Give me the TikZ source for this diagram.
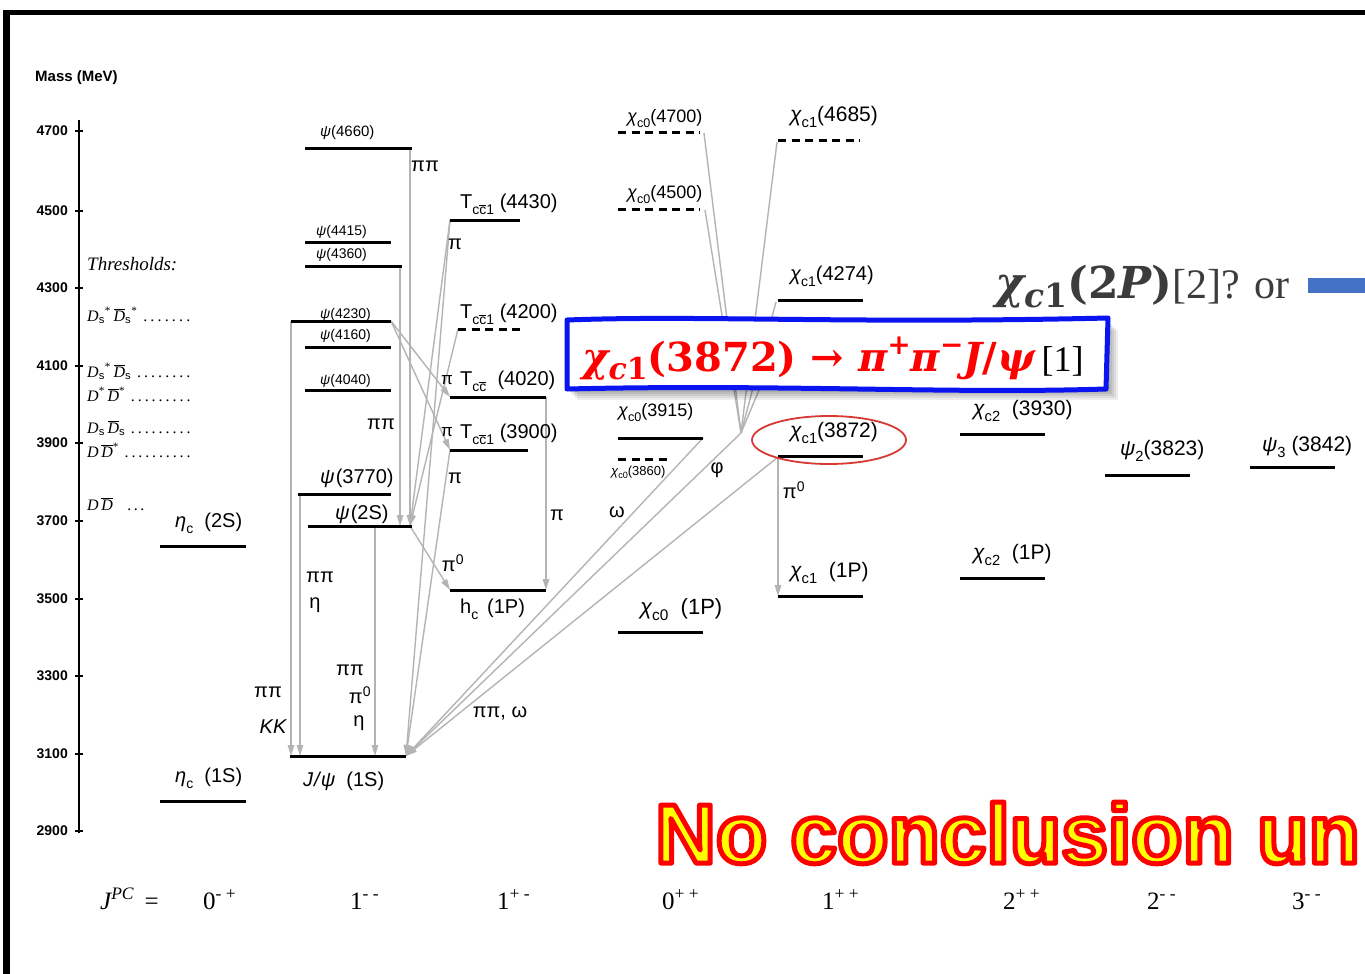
\documentclass[tikz,border=0pt]{standalone}
\usepackage{fontspec}
\usepackage{graphicx}
\setmainfont{Liberation Serif}
\newfontfamily\lsans{Liberation Sans}
\newfontfamily\djs{DejaVu Serif}
\usetikzlibrary{arrows.meta}
\definecolor{barblue}{HTML}{4472C4}
\definecolor{trgray}{HTML}{B4B4B4}
\definecolor{elred}{HTML}{D63A33}
\definecolor{boxblue}{HTML}{0A14F0}
\definecolor{txtgray}{HTML}{3C3C3C}
\newcommand\fsz[1]{\fontsize{#1}{#1}\selectfont}
\newcommand\gi[1]{{\itshape #1}}
\newcommand\sbs[1]{\raisebox{-0.3em}{\scalebox{0.7}{#1}}}
\newcommand\bsb[1]{\raisebox{-0.22em}{\scalebox{0.75}{#1}}}
\newcommand\bsp[1]{\raisebox{0.42em}{\scalebox{0.7}{#1}}}
\newcommand\cb{$\overline{\hbox{c}}$}
\newcommand\Dit{{\itshape D}}
\newcommand\Dbr{$\overline{\hbox{\itshape D}}$}
\newcommand\sS{\textsubscript{\lsans s}}
\newcommand\dt{\hbox to 6.6pt{\hss.\hss}}
\newcommand\thrrow[2]{\hbox to #1pt{#2\ \xleaders\dt\hfill}}
\newcommand\NoC{No conclusion un}
\newcommand\outl[1]{\special{pdf:code q 2 Tr 1 0 0 RG 1 1 0 rg 5 w 1 j}#1\special{pdf:code Q}}
\tikzset{
  lvl/.style={line width=3pt, black},
  dlvl/.style={line width=3pt, black, dash pattern=on 8pt off 5.5pt},
  tr/.style={draw=trgray, line width=1.4pt, -{Triangle[length=11pt,width=6.5pt]}},
  trl/.style={draw=trgray, line width=1.4pt},
  lab/.style={inner sep=0pt, anchor=base west, font=\lsans\fsz{20}},
  mlab/.style={inner sep=0pt, anchor=base west, font=\lsans\fsz{18}},
  slab/.style={inner sep=0pt, anchor=base west, font=\lsans\fsz{14}},
  tlab/.style={inner sep=0pt, font=\lsans\fsz{20}},
  tick/.style={inner sep=0pt, anchor=east, font=\lsans\bfseries\fsz{14}},
  thr/.style={inner sep=0pt, anchor=base west, font=\fsz{16}},
  jpc/.style={inner sep=0pt, anchor=base west, font=\fsz{25}},
  bigt/.style={inner sep=0pt, anchor=base west, font=\lsans\bfseries\fsz{84}},
}
\begin{document}
\begin{tikzpicture}[x=1pt,y=-1pt]
\useasboundingbox (0,0) rectangle (1365,974);
\clip (0,0) rectangle (1365,974);
\fill[white] (0,0) rectangle (1365,974);
% frame
\fill[black] (3,10) rectangle (1365,15);
\fill[black] (3,10) rectangle (10,974);

% axis
\draw[line width=1.5pt] (79,120) -- (79,833);
\foreach \m/\yy in {4700/131,4500/211,4300/288,4100/366,3900/443,3700/521,3500/599,3300/676,3100/754,2900/831}{
  \draw[line width=1.5pt] (75,\yy) -- (83,\yy);
  \node[tick] (t\m) at (68,\yy) {\m};
}
\node[inner sep=0pt, anchor=west, font=\lsans\bfseries\fsz{15}] (mass) at (35,78) {Mass (MeV)};

% thresholds
\node[inner sep=0pt, anchor=west, font=\itshape\fsz{19}] (thrt) at (87,264) {Thresholds:};
\node[thr] (th1) at (87,321) {\thrrow{105}{\Dit\sS\textsuperscript{*}\,\Dbr\sS\textsuperscript{*}}};
\node[thr] (th2) at (87,377) {\thrrow{105}{\Dit\sS\textsuperscript{*}\,\Dbr\sS}};
\node[thr] (th3) at (87,401) {\thrrow{105}{\Dit\textsuperscript{*}\,\Dbr\textsuperscript{*}}};
\node[thr] (th4) at (87,433) {\thrrow{105}{\Dit\sS\,\Dbr\sS}};
\node[thr] (th5) at (87,457) {\thrrow{105}{\Dit\,\Dbr\textsuperscript{*}}};
\node[thr] (th6) at (87,510) {\Dit\,\Dbr\hspace{13pt}\dt\dt\dt};

% coordinates for transitions
\coordinate (p4660a) at (410,148);
\coordinate (p2Sa) at (410,526);
\coordinate (p4360a) at (400,266);
\coordinate (p2Sb) at (400,526);
\coordinate (p4230L) at (291,321);
\coordinate (jpL) at (291,756);
\coordinate (p3770L) at (300,494);
\coordinate (jpL2) at (300,756);
\coordinate (p2Sc) at (375,526);
\coordinate (jpM) at (375,756);
\coordinate (p4230R) at (391,321);
\coordinate (t4020L) at (450,397);
\coordinate (t3900L) at (450,450);
\coordinate (hcL) at (450,590);
\coordinate (t4020R) at (546,397);
\coordinate (hcR) at (546,590);
\coordinate (t4430L) at (450,220);
\coordinate (t4200L) at (458,329);
\coordinate (jpR) at (406,756);
\coordinate (chi0a) at (704,133);
\coordinate (chi0b) at (705,210);
\coordinate (chi1a) at (777,142);
\coordinate (chi1b) at (776,302);
\coordinate (chi1c) at (777,347);
\coordinate (cv) at (741,433);
\coordinate (c3915R) at (703,438);
\coordinate (c3872L) at (778,457);
\coordinate (c1PL) at (778,596);

% transitions
\draw[tr] (p4660a) -- (p2Sa);
\draw[tr] (p4360a) -- (p2Sb);
\draw[tr] (p4230L) -- (jpL);
\draw[tr] (p3770L) -- (jpL2);
\draw[tr] (p2Sc) -- (jpM);
\draw[tr] (p4230R) -- (t4020L);
\draw[tr] (p4230R) -- (t3900L);
\draw[tr] (p2Sa) -- (hcL);
\draw[tr] (t4020R) -- (hcR);
\draw[tr] (t4430L) -- (jpR);
\draw[tr] (t4430L) -- (p2Sa);
\draw[tr] (t4200L) -- (p2Sa);
\draw[tr] (t3900L) -- (jpR);
\draw[trl] (chi0a) -- (cv);
\draw[trl] (chi0b) -- (cv);
\draw[trl] (chi1a) -- (cv);
\draw[trl] (chi1b) -- (cv);
\draw[trl] (chi1c) -- (cv);
\draw[tr] (cv) -- (jpR);
\draw[tr] (c3915R) -- (jpR);
\draw[tr] (c3872L) -- (jpR);
\draw[tr] (c3872L) -- (c1PL);

% levels
\draw[lvl] (160,546) -- (246,546);
\draw[lvl] (160,801) -- (246,801);
\draw[lvl] (305,148) -- (412,148);
\draw[lvl] (305,242) -- (391,242);
\draw[lvl] (305,266) -- (402,266);
\draw[lvl] (291,321) -- (391,321);
\draw[lvl] (305,347) -- (391,347);
\draw[lvl] (305,390) -- (391,390);
\draw[lvl] (298,494) -- (391,494);
\draw[lvl] (308,526) -- (412,526);
\draw[lvl] (290,756) -- (406,756);
\draw[lvl] (450,220) -- (520,220);
\draw[dlvl] (458,329) -- (524,329);
\draw[lvl] (450,397) -- (546,397);
\draw[lvl] (450,450) -- (528,450);
\draw[lvl] (450,590) -- (546,590);
\draw[dlvl] (618,132) -- (700,132);
\draw[dlvl] (618,209) -- (700,209);
\draw[lvl] (618,438) -- (703,438);
\draw[dlvl] (618,459) -- (670,459);
\draw[lvl] (618,632) -- (703,632);
\draw[dlvl] (778,140) -- (860,140);
\draw[lvl] (778,300) -- (863,300);
\draw[lvl] (778,345) -- (863,345);
\draw[lvl] (778,456) -- (863,456);
\draw[lvl] (778,596) -- (863,596);
\draw[lvl] (960,434) -- (1045,434);
\draw[lvl] (960,578) -- (1045,578);
\draw[lvl] (1105,475) -- (1190,475);
\draw[lvl] (1250,467) -- (1335,467);

% level labels
\node[lab] (letac2) at (175,527) {\gi{η}\sbs{c}\ \ (2S)};
\node[lab] (letac1) at (175,782) {\gi{η}\sbs{c}\ \ (1S)};
\node[slab, font=\lsans\fsz{15}] (lp4660) at (320,136) {\gi{ψ}(4660)};
\node[slab] (lp4415) at (316,235) {\gi{ψ}(4415)};
\node[slab] (lp4360) at (316,258) {\gi{ψ}(4360)};
\node[slab] (lp4230) at (320,318) {\gi{ψ}(4230)};
\node[slab] (lp4160) at (320,339) {\gi{ψ}(4160)};
\node[slab] (lp4040) at (320,384) {\gi{ψ}(4040)};
\node[lab] (lp3770) at (320,483) {\gi{ψ}\kern1pt(3770)};
\node[lab] (lp2S) at (335,519) {\gi{ψ}\kern1pt(2S)};
\node[lab] (ljp) at (303,786) {\gi{J\kern1pt/\kern1ptψ}\ \ (1S)};
\node[lab] (lt4430) at (460,208) {T\sbs{c\cb1} (4430)};
\node[lab] (lt4200) at (460,318) {T\sbs{c\cb1} (4200)};
\node[lab] (lt4020) at (460,385) {T\sbs{c\cb} \ (4020)};
\node[lab] (lt3900) at (460,438) {T\sbs{c\cb1} (3900)};
\node[lab] (lhc) at (460,613) {h\sbs{c}\ \,(1P)};
\node[mlab] (lc4700) at (627,122) {\gi{χ}\sbs{c0}(4700)};
\node[mlab] (lc4500) at (627,198) {\gi{χ}\sbs{c0}(4500)};
\node[mlab] (lc3915) at (618,416) {\gi{χ}\sbs{c0}(3915)};
\node[slab, font=\lsans\fsz{13}] (lc3860) at (611,475) {\gi{χ}\sbs{c0}(3860)};
\node[lab, font=\lsans\fsz{22}] (lc01P) at (640,614) {\gi{χ}\sbs{c0}\ \ (1P)};
\node[lab, font=\lsans\fsz{21}] (lc4685) at (790,121) {\gi{χ}\sbs{c1}(4685)};
\node[lab] (lc4274) at (790,280) {\gi{χ}\sbs{c1}(4274)};
\node[lab] (lc4140) at (790,334) {\gi{χ}\sbs{c1}(4140)};
\node[lab, font=\lsans\fsz{21}] (lc3872) at (790,437) {\gi{χ}\sbs{c1}(3872)};
\node[lab, font=\lsans\fsz{21}] (lc11P) at (790,577) {\gi{χ}\sbs{c1}\ \ (1P)};
\node[lab, font=\lsans\fsz{21}] (lc3930) at (973,415) {\gi{χ}\sbs{c2}\ \ (3930)};
\node[lab, font=\lsans\fsz{21}] (lc21P) at (973,559) {\gi{χ}\sbs{c2}\ \ (1P)};
\node[lab, font=\lsans\fsz{21}] (lp3823) at (1120,455) {\gi{ψ}\sbs{2}(3823)};
\node[lab, font=\lsans\fsz{21}] (lp3842) at (1262,451) {\gi{ψ}\sbs{3}\ (3842)};

% transition labels
\node[tlab] (a1) at (425,166) {ππ};
\node[tlab] (a2) at (455,244) {π};
\node[tlab] (a3) at (381,424) {ππ};
\node[tlab, font=\lsans\fsz{17}] (a4) at (447,380) {π};
\node[tlab, font=\lsans\fsz{17}] (a5) at (447,432) {π};
\node[tlab] (a6) at (455,478) {π};
\node[tlab] (a7) at (557,515) {π};
\node[tlab] (a8) at (453,563) {π\textsuperscript{0}};
\node[tlab] (a9) at (320,577) {ππ};
\node[tlab] (a10) at (315,605) {η};
\node[tlab] (a11) at (268,692) {ππ};
\node[tlab] (a12) at (273,727) {\gi{KK}};
\node[tlab] (a13) at (350,670) {ππ};
\node[tlab] (a14) at (360,695) {π\textsuperscript{0}};
\node[tlab] (a15) at (359,723) {η};
\node[tlab] (a16) at (500,713) {ππ,\ ω};
\node[tlab] (a17) at (617,512) {ω};
\node[tlab] (a18) at (717,470) {φ};
\node[tlab] (a19) at (794,490) {π\textsuperscript{0}};

% JPC row
\node[jpc] (jpc0) at (100,909) {\gi{J}\textsuperscript{\itshape PC} \,=};
\node[jpc] (jpc1) at (203,909) {0\textsuperscript{- +}};
\node[jpc] (jpc2) at (350,909) {1\textsuperscript{- -}};
\node[jpc] (jpc3) at (497,909) {1\textsuperscript{+ -}};
\node[jpc] (jpc4) at (662,909) {0\textsuperscript{+ +}};
\node[jpc] (jpc5) at (822,909) {1\textsuperscript{+ +}};
\node[jpc] (jpc6) at (1003,909) {2\textsuperscript{+ +}};
\node[jpc] (jpc7) at (1147,909) {2\textsuperscript{- -}};
\node[jpc] (jpc8) at (1292,909) {3\textsuperscript{- -}};

% red ellipse
\draw[elred, line width=1.8pt] (829,440) ellipse [x radius=77, y radius=24];

% blue box with shadow
\foreach \s in {2,4,6,8,10}{
  \fill[black, opacity=0.07] (567+\s,320+\s) rectangle (1108+\s,390+\s);
}
\draw[line width=5pt, draw=boxblue, fill=white, line join=round]
  (567,320) .. controls (700,315) and (850,324) .. (1108,318)
  -- (1106,389) .. controls (950,394) and (780,384) .. (567,389) -- cycle;
\node[inner sep=0pt, anchor=base west, font=\djs\bfseries\fsz{40}, text=red] (boxtxt) at (582,371)
  {\gi{χ}\bsb{\gi{c}1}(3872)\ →\ \gi{π}\bsp{+}\gi{π}\bsp{−}\gi{J}/\gi{ψ}\,{\color{black}\rmfamily\mdseries\fsz{36}[1]}};

% top right text
\node[inner sep=0pt, anchor=base west, font=\fsz{42}, text=txtgray] (trt) at (995,298)
  {{\djs\bfseries\fsz{44}\gi{χ}\bsb{\gi{c}1}(2\gi{P})}[2]? or};
\fill[barblue] (1308,278) rectangle (1365,293);

% big text
\node[bigt] (ncy) at (655,863) {\outl{\NoC}};
\end{tikzpicture}
\end{document}
